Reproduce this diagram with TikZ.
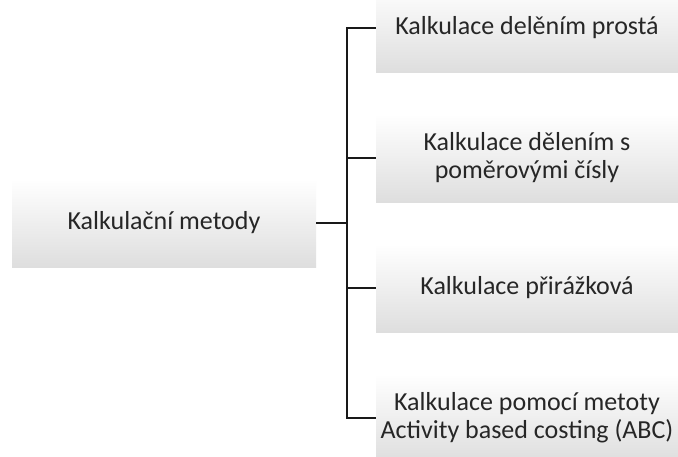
\documentclass[tikz,border=0pt]{standalone}
\usepackage{fontspec}
\setmainfont{Carlito}
\begin{document}
\begin{tikzpicture}[x=1pt,y=-1pt,
  box/.style={rectangle, minimum width=302pt, minimum height=88pt, inner sep=2pt,
    top color=white, bottom color=black!13, draw=none, text=black!85,
    font=\fontsize{26}{28}\selectfont, align=center},
  conn/.style={draw=black!90, line width=1.3pt}]
\clip (0,0) rectangle (678,456);
\fill[white] (0,0) rectangle (678,456);
\node[box, minimum width=304pt] (root) at (164,223) {Kalkulační metody};
\node[box] (b1) at (527,28) {Kalkulace delěním prostá};
\node[box] (b2) at (527,158) {Kalkulace dělením s\\poměrovými čísly};
\node[box] (b3) at (527,288) {Kalkulace přirážková};
\node[box] (b4) at (527,418) {Kalkulace pomocí metoty\\Activity based costing (ABC)};
\coordinate (t) at (347,223);
\draw[conn] (root.east) -- (t);
\draw[conn] (b1.west) -| (t);
\draw[conn] (b2.west) -| (t);
\draw[conn] (b3.west) -| (t);
\draw[conn] (b4.west) -| (t);
\end{tikzpicture}
\end{document}
